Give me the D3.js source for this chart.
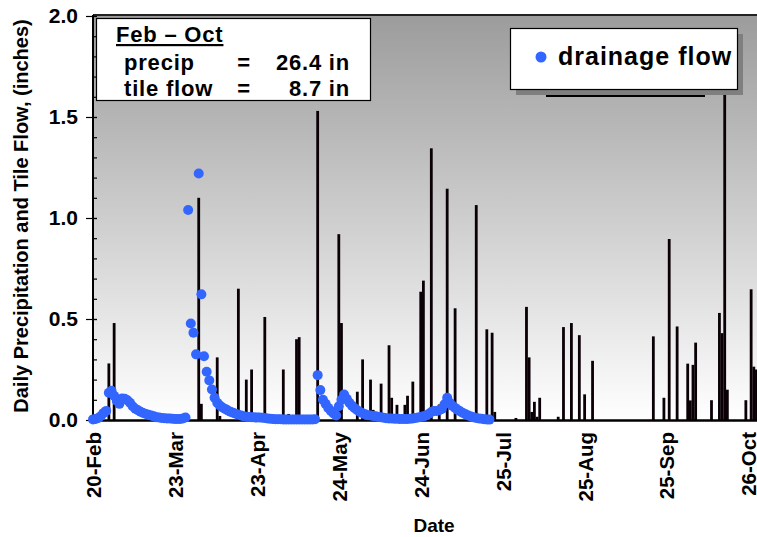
<!DOCTYPE html>
<html>
<head>
<meta charset="utf-8">
<script src="https://cdn.jsdelivr.net/npm/d3@7/dist/d3.min.js"></script>
<style>
  html, body { margin: 0; padding: 0; background: #fff; }
  svg { display: block; font-family: "Liberation Sans", Arial, sans-serif; font-weight: bold; }
</style>
</head>
<body>
<svg id="chart" width="757" height="537"></svg>
<script>
// ---------------- data ----------------
const precipDates = [
  "2003-02-23","2003-02-26","2003-02-28","2003-04-01","2003-04-02","2003-04-08","2003-04-09",
  "2003-04-16","2003-04-19","2003-04-21","2003-04-26","2003-05-03","2003-05-05","2003-05-08",
  "2003-05-09","2003-05-16","2003-05-24","2003-05-25","2003-05-31","2003-06-02","2003-06-05",
  "2003-06-06","2003-06-09","2003-06-12","2003-06-13","2003-06-15","2003-06-18","2003-06-19",
  "2003-06-21","2003-06-24","2003-06-25","2003-06-28","2003-07-01","2003-07-04","2003-07-07",
  "2003-07-15","2003-07-19","2003-07-21","2003-07-22","2003-07-30","2003-08-03","2003-08-04",
  "2003-08-05","2003-08-06","2003-08-07","2003-08-08","2003-08-15","2003-08-17","2003-08-20",
  "2003-08-23","2003-08-25","2003-08-28","2003-09-20","2003-09-24","2003-09-26","2003-09-29",
  "2003-10-03","2003-10-04","2003-10-05","2003-10-06","2003-10-12","2003-10-15","2003-10-16",
  "2003-10-17","2003-10-18","2003-10-25","2003-10-27","2003-10-28","2003-10-29"
];
const precipValues = [
  0.05, 0.28, 0.48, 1.10, 0.08, 0.31, 0.02,
  0.65, 0.20, 0.25, 0.51, 0.25, 0.03, 0.40,
  0.41, 1.53, 0.92, 0.48, 0.14, 0.30, 0.20,
  0.05, 0.18, 0.37, 0.11, 0.075, 0.075, 0.12,
  0.19, 0.635, 0.69, 1.345, 0.077, 1.145, 0.553,
  1.064, 0.449, 0.432, 0.04, 0.01, 0.56, 0.31,
  0.04, 0.09, 0.016, 0.11, 0.016, 0.46, 0.48,
  0.42, 0.127, 0.293, 0.414, 0.11, 0.896, 0.463,
  0.279, 0.097, 0.273, 0.383, 0.098, 0.53, 0.43,
  1.65, 0.15, 0.098, 0.647, 0.264, 0.25
];
// daily drainage flow, one value per day starting at flowStart
const flowStart = "2003-02-20";
const flowValues = [
  0.003,0.005,0.01,0.02,0.035,0.045,0.135,0.145,0.12,0.095,
  0.08,0.107,0.105,0.098,0.085,0.068,0.056,0.048,0.041,0.035,
  0.03,0.026,0.022,0.018,0.014,0.012,0.010,0.009,0.008,0.007,
  0.006,0.005,0.005,0.005,0.007,0.012,1.04,0.478,0.432,0.325,
  1.22,0.622,0.316,0.239,0.196,0.151,0.11,0.085,0.072,0.062,
  0.055,0.047,0.041,0.036,0.031,0.026,0.022,0.019,0.016,0.015,
  0.014,0.013,0.012,0.012,0.011,0.01,0.008,0.006,0.005,0.004,
  0.004,0.004,0.003,0.003,0.003,0.003,0.003,0.003,0.003,0.003,
  0.003,0.003,0.003,0.003,0.004,0.222,0.148,0.10,0.08,0.06,
  0.045,0.032,0.022,0.068,0.10,0.126,0.105,0.085,0.07,0.058,
  0.048,0.04,0.033,0.028,0.024,0.022,0.02,0.018,0.015,0.013,
  0.011,0.009,0.008,0.007,0.006,0.006,0.005,0.005,0.005,0.005,
  0.006,0.008,0.01,0.012,0.015,0.018,0.022,0.03,0.04,0.045,
  0.045,0.048,0.055,0.078,0.11,0.085,0.07,0.06,0.05,0.042,
  0.035,0.028,0.022,0.017,0.013,0.01,0.008,0.006,0.004,0.003,
  0.002
];
const xTickDates = ["2003-02-20","2003-03-23","2003-04-23","2003-05-24","2003-06-24",
                    "2003-07-25","2003-08-25","2003-09-25","2003-10-26"];
const yTickValues = [0, 0.5, 1.0, 1.5, 2.0];
const yMinorTicks = [0.1,0.2,0.3,0.4,0.5,0.6,0.7,0.8,0.9,1.0,1.1,1.2,1.3,1.4,1.5,1.6,1.7,1.8,1.9];
const boxTitle = "Feb \u2013 Oct";
const boxRows = [["precip", "=", "26.4 in"], ["tile flow", "=", "8.7 in"]];
const legendLabel = "drainage flow";
const yTitle = "Daily Precipitation and Tile Flow, (inches)";
const xTitle = "Date";

// ---------------- chart ----------------
(function () {
const parse = d3.utcParse("%Y-%m-%d");
const svg = d3.select("#chart");
const pL = 93, pR = 757, pT = 16, pB = 420;

const x = d3.scaleUtc()
  .domain([parse("2003-02-20"), parse("2003-10-26")])
  .range([93, 748.5]);
const y = d3.scaleLinear().domain([0, 2]).range([pB, pT]);

const defs = svg.append("defs");
const grad = defs.append("linearGradient").attr("id", "bg")
  .attr("x1", 0).attr("y1", 0).attr("x2", 0).attr("y2", 1);
grad.append("stop").attr("offset", "0%").attr("stop-color", "#9c9c9c");
grad.append("stop").attr("offset", "100%").attr("stop-color", "#ffffff");

svg.append("rect").attr("x", pL).attr("y", pT - 1)
  .attr("width", pR - pL + 2).attr("height", pB - pT + 1)
  .attr("fill", "url(#bg)");
svg.append("line").attr("x1", pL).attr("x2", pR + 2).attr("y1", pT - 1).attr("y2", pT - 1)
  .attr("stroke", "#222").attr("stroke-width", 1.8);

// bars
const precip = precipDates.map((d, i) => ({ date: parse(d), v: precipValues[i] }));
const bw = 2.8;
svg.append("g").selectAll("rect").data(precip).join("rect")
  .attr("x", d => x(d.date) - bw / 2)
  .attr("y", d => y(d.v))
  .attr("width", bw)
  .attr("height", d => y(0) - y(d.v))
  .attr("fill", "#0a0006");

// axes
const yAxis = d3.axisLeft(y).tickValues(yTickValues).tickSize(7).tickPadding(8)
  .tickFormat(d3.format(".1f"));
const gy = svg.append("g").attr("transform", `translate(${pL},0)`).call(yAxis);
gy.select(".domain").remove();
gy.selectAll(".tick line").attr("stroke", "#000").attr("stroke-width", 1.2);
gy.selectAll(".tick text").attr("font-size", 21).attr("font-family", "Liberation Sans, Arial, sans-serif")
  .attr("font-weight", "bold").attr("fill", "#000");

const yMinor = d3.axisRight(y).tickValues(yMinorTicks.concat(yTickValues)).tickSize(4).tickFormat("");
const gym = svg.append("g").attr("transform", `translate(${pL},0)`).call(yMinor);
gym.select(".domain").remove();
gym.selectAll(".tick line").attr("stroke", "#000").attr("stroke-width", 1.2);

const xAxis = d3.axisBottom(x).tickValues(xTickDates.map(parse)).tickSize(0)
  .tickFormat(d3.utcFormat("%-d-%b"));
const gx = svg.append("g").attr("transform", `translate(0,${pB})`).call(xAxis);
gx.select(".domain").remove();
gx.selectAll(".tick text")
  .attr("font-size", 20.5).attr("font-family", "Liberation Sans, Arial, sans-serif")
  .attr("font-weight", "bold").attr("fill", "#000")
  .attr("transform", "rotate(-90)")
  .attr("text-anchor", "end")
  .attr("x", -12).attr("y", 0).attr("dy", "0.36em");

// axis lines
svg.append("line").attr("x1", pL).attr("x2", pL).attr("y1", pT - 1).attr("y2", pB + 1.5)
  .attr("stroke", "#000").attr("stroke-width", 2);
svg.append("line").attr("x1", pL - 1).attr("x2", pR + 2).attr("y1", pB + 0.5).attr("y2", pB + 0.5)
  .attr("stroke", "#000").attr("stroke-width", 2.5);

// drainage dots
const flow = flowValues.map((v, i) => ({ date: d3.utcDay.offset(parse(flowStart), i), v }));
svg.append("g").selectAll("circle").data(flow).join("circle")
  .attr("cx", d => x(d.date)).attr("cy", d => y(d.v)).attr("r", 5)
  .attr("fill", "#3366ff");

// summary text box
const box = svg.append("g").attr("letter-spacing", "0.8px");
box.append("rect").attr("x", 96.5).attr("y", 18.5).attr("width", 274).attr("height", 82)
  .attr("fill", "#fff").attr("stroke", "#000").attr("stroke-width", 1.2);
box.append("text").attr("x", 116).attr("y", 42).attr("font-size", 22)
  .attr("text-decoration", "underline").text(boxTitle);
boxRows.forEach((r, i) => {
  const by = 70 + i * 26;
  box.append("text").attr("x", 124).attr("y", by).attr("font-size", 22).text(r[0]);
  box.append("text").attr("x", 244).attr("y", by).attr("font-size", 22).attr("text-anchor", "middle").text(r[1]);
  box.append("text").attr("x", 350).attr("y", by).attr("font-size", 22).attr("text-anchor", "end").text(r[2]);
});

// legend
const lg = svg.append("g");
lg.append("rect").attr("x", 516).attr("y", 34).attr("width", 227).attr("height", 61).attr("fill", "#7f7f7f");
lg.append("rect").attr("x", 510.5).attr("y", 28.5).attr("width", 227).attr("height", 61)
  .attr("fill", "#fff").attr("stroke", "#000").attr("stroke-width", 1.2);
lg.append("circle").attr("cx", 541).attr("cy", 57).attr("r", 5.5).attr("fill", "#3366ff");
lg.append("text").attr("x", 558).attr("y", 65).attr("font-size", 25).attr("letter-spacing", "1px").text(legendLabel);
svg.append("line").attr("x1", 546).attr("x2", 705).attr("y1", 96).attr("y2", 96)
  .attr("stroke", "#000").attr("stroke-width", 2);

// titles
svg.append("text").attr("transform", "translate(28,216) rotate(-90)")
  .attr("text-anchor", "middle").attr("font-size", 20).text(yTitle);
svg.append("text").attr("x", 434).attr("y", 532).attr("text-anchor", "middle")
  .attr("font-size", 19).text(xTitle);
})();
</script>
</body>
</html>
